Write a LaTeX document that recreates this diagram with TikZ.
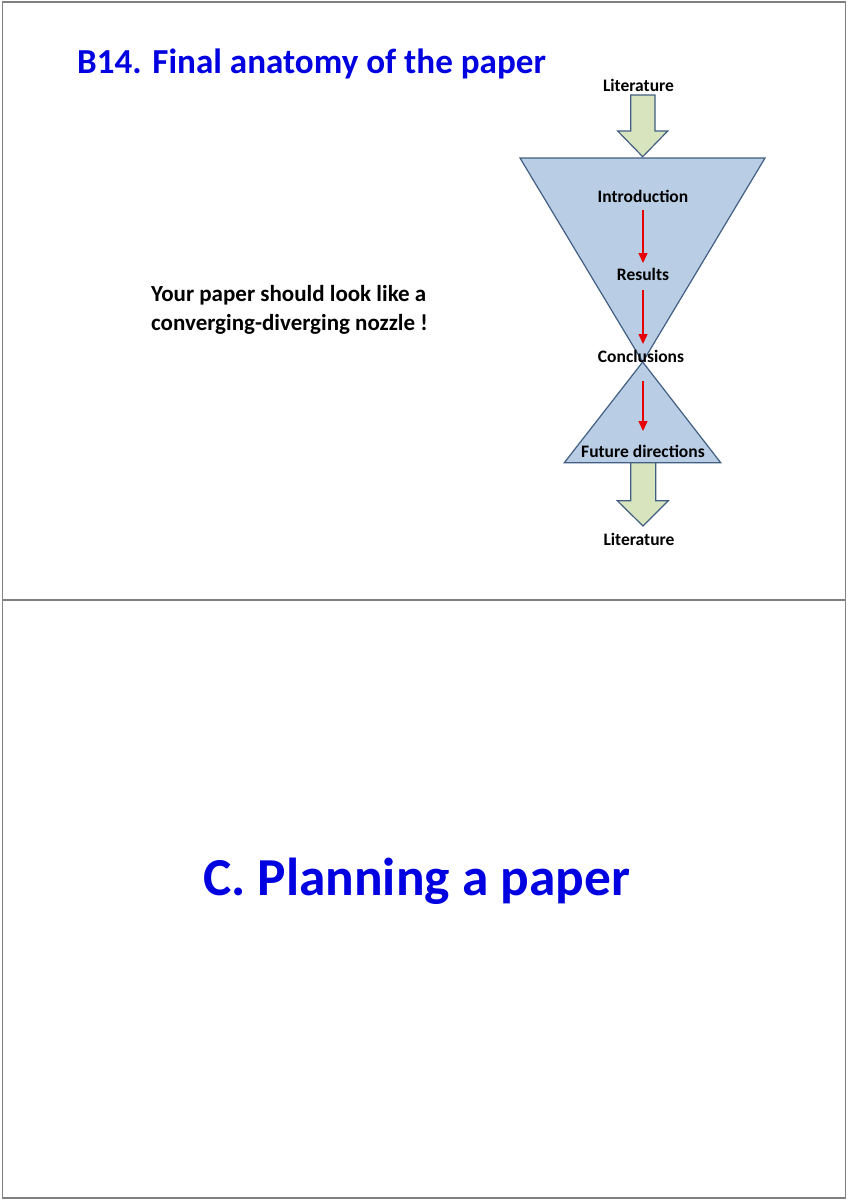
\documentclass[tikz,border=0pt]{standalone}
\usepackage{fontspec}
\setmainfont{Carlito}
\usetikzlibrary{arrows.meta}
\definecolor{titleblue}{RGB}{0,0,225}
\definecolor{trifill}{RGB}{185,205,229}
\definecolor{triline}{RGB}{65,95,130}
\definecolor{arrfill}{RGB}{215,228,189}
\definecolor{framegray}{RGB}{128,128,128}
\definecolor{redarr}{RGB}{230,0,0}
\tikzset{
  frame/.style={draw=framegray, line width=1.6pt},
  tri/.style={draw=triline, fill=trifill, line width=1.2pt, line join=miter},
  fatarrow/.style={draw=triline, fill=arrfill, line width=1.2pt, line join=miter},
  lbl/.style={font=\fontsize{17.5}{20}\selectfont\bfseries, inner sep=0pt, text=black},
  flow/.style={draw=redarr, line width=1.4pt, -{Triangle[length=10pt,width=9pt]}},
}
\begin{document}
\begin{tikzpicture}[x=1pt,y=-1pt]
\useasboundingbox (0,0) rectangle (848,1200);
\fill[white] (0,0) rectangle (848,1200);
% frames
\draw[frame] (2.5,2) rectangle (845.5,1198);
\draw[frame] (2.5,600) -- (845.5,600);
% title
\node[anchor=base west, inner sep=0pt, text=titleblue, font=\fontsize{35.1}{40}\selectfont\bfseries] (title) at (77,73) {B14. Final anatomy of the paper};
% body text
\node[anchor=base west, inner sep=0pt, align=left, font=\fontsize{23}{28.3}\selectfont\bfseries] (body) at (151,330) {Your paper should look like a\\converging-diverging nozzle !};
% nozzle
\draw[tri] (520,158) -- (765,158) -- (642.7,362) -- cycle;
\draw[tri] (642.7,362) -- (720.7,462.7) -- (564.3,462.7) -- cycle;
% fat arrows
\draw[fatarrow] (630.7,95) -- (655,95) -- (655,131) -- (667.7,131) -- (642.7,156.7) -- (617.7,131) -- (630.7,131) -- cycle;
\draw[fatarrow] (630.7,462.7) -- (655.7,462.7) -- (655.7,500.7) -- (668.3,500.7) -- (643,526) -- (617.3,500.7) -- (630.7,500.7) -- cycle;
% labels
\node[lbl] (litin) at (638.5,85) {Literature};
\node[lbl] (intro) at (643,196) {Introduction};
\node[lbl] (res) at (643,274) {Results};
\node[lbl] (conc) at (641,356) {Conclusions};
\node[lbl] (fut) at (643,451) {Future directions};
\node[lbl] (litout) at (639,539) {Literature};
% red flow arrows
\draw[flow, shorten <=14pt, shorten >=11pt] (intro.center) -- (res.center);
\draw[flow, shorten <=16pt, shorten >=12pt] (res.center) -- (res.center |- conc.center);
\draw[flow, shorten <=25pt, shorten >=20pt] (res.center |- conc.center) -- (fut.center);
% section title
\node[anchor=base, inner sep=0pt, text=titleblue, font=\fontsize{53.4}{60}\selectfont\bfseries] (sect) at (416.5,895) {C. Planning a paper};
\end{tikzpicture}
\end{document}
